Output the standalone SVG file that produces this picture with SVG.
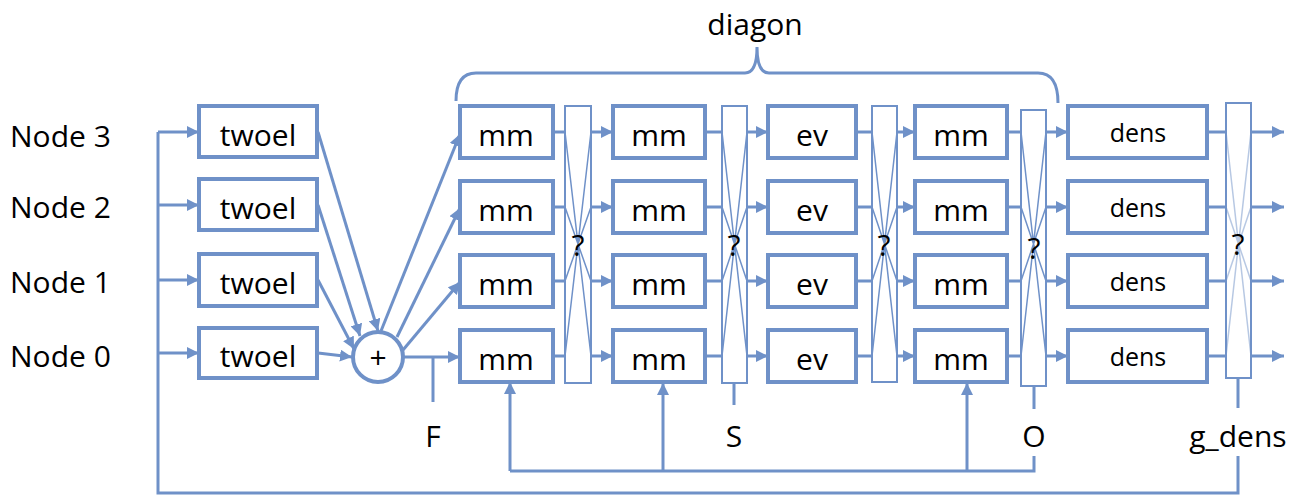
<svg xmlns="http://www.w3.org/2000/svg" width="1299" height="497" viewBox="0 0 1299 497">
<style>
.bx{fill:#fff;stroke:#6F91C8;stroke-width:4}
.qb{fill:#fff;stroke:#6F91C8;stroke-width:2}
.ln{fill:none;stroke:#6F91C8;stroke-width:3}
.th{fill:none;stroke:#6F91C8;stroke-width:1.5}
.tx{font-family:"Open Sans","Liberation Sans",sans-serif;font-size:30px;fill:#000}
.c{text-anchor:middle}
</style>
<defs>
<marker id="ah" markerUnits="userSpaceOnUse" markerWidth="13" markerHeight="12" refX="12" refY="6" orient="auto">
<path d="M0,0 L12,6 L0,12 z" fill="#6F91C8"/>
</marker>
</defs>
<rect width="1299" height="497" fill="#fff"/>

<g id="labels">
<text class="tx" x="10" y="147">Node 3</text>
<text class="tx" x="10" y="218">Node 2</text>
<text class="tx" x="10" y="293">Node 1</text>
<text class="tx" x="10" y="367">Node 0</text>
<text class="tx c" x="755" y="35">diagon</text>
<text class="tx c" x="433" y="447">F</text>
<text class="tx c" x="734" y="447">S</text>
<text class="tx c" x="1034" y="447">O</text>
<text class="tx c" x="1238" y="447">g_dens</text>
</g>

<g id="connectors">
<!-- brace -->
<path class="ln" stroke-width="4" d="M456,101 Q456,73 476,73 L745,73 Q757,73 757,47 Q757,73 769,73 L1038,73 Q1058,73 1058,103"/>
<!-- left bus -->
<path class="ln" d="M158,132 V493 H1238 V456"/>
<path class="ln" marker-end="url(#ah)" d="M158,132 H199"/>
<path class="ln" marker-end="url(#ah)" d="M158,205 H199"/>
<path class="ln" marker-end="url(#ah)" d="M158,280 H199"/>
<path class="ln" marker-end="url(#ah)" d="M158,353 H199"/>
<!-- twoel to plus -->
<path class="ln" marker-end="url(#ah)" d="M318,132 L378,331"/>
<path class="ln" marker-end="url(#ah)" d="M318,205 L360,336"/>
<path class="ln" marker-end="url(#ah)" d="M318,280 L354,349"/>
<path class="ln" marker-end="url(#ah)" d="M318,353 L352,357"/>
<!-- plus to mm -->
<path class="ln" marker-end="url(#ah)" d="M381,331 L460,134"/>
<path class="ln" marker-end="url(#ah)" d="M397,337 L460,208"/>
<path class="ln" marker-end="url(#ah)" d="M403,350 L460,282"/>
<path class="ln" marker-end="url(#ah)" d="M403,357 H460"/>
<path class="ln" d="M433,357 V402"/>
<!-- column links: box -> ? -->
<path class="ln" d="M553,132 H565 M553,207 H565 M553,281 H565 M553,356 H565"/>
<path class="ln" d="M705,132 H722 M705,207 H722 M705,281 H722 M705,356 H722"/>
<path class="ln" d="M856,132 H872 M856,207 H872 M856,281 H872 M856,356 H872"/>
<path class="ln" d="M1007,132 H1021 M1007,207 H1021 M1007,281 H1021 M1007,356 H1021"/>
<path class="ln" d="M1207,132 H1226 M1207,207 H1226 M1207,281 H1226 M1207,356 H1226"/>
<!-- ? -> next box -->
<g marker-end="url(#ah)">
<path class="ln" d="M591,132 H613"/><path class="ln" d="M591,207 H613"/><path class="ln" d="M591,281 H613"/><path class="ln" d="M591,356 H613"/>
<path class="ln" d="M747,132 H768"/><path class="ln" d="M747,207 H768"/><path class="ln" d="M747,281 H768"/><path class="ln" d="M747,356 H768"/>
<path class="ln" d="M897,132 H915"/><path class="ln" d="M897,207 H915"/><path class="ln" d="M897,281 H915"/><path class="ln" d="M897,356 H915"/>
<path class="ln" d="M1046,132 H1068"/><path class="ln" d="M1046,207 H1068"/><path class="ln" d="M1046,281 H1068"/><path class="ln" d="M1046,356 H1068"/>
<path class="ln" d="M1251,132 H1284"/><path class="ln" d="M1251,207 H1284"/><path class="ln" d="M1251,281 H1284"/><path class="ln" d="M1251,356 H1284"/>
</g>
<!-- ticks -->
<path class="ln" d="M734,383 V405 M1034,386 V409 M1238,378 V408"/>
<!-- feedback -->
<path class="ln" d="M1034,456 V471 H510"/>
<path class="ln" marker-end="url(#ah)" d="M510,471 V382"/>
<path class="ln" marker-end="url(#ah)" d="M663,471 V383"/>
<path class="ln" marker-end="url(#ah)" d="M967,471 V383"/>
</g>

<g id="twoel">
<rect class="bx" x="199" y="106" width="118" height="51"/>
<rect class="bx" x="199" y="179" width="118" height="51"/>
<rect class="bx" x="199" y="254" width="118" height="52"/>
<rect class="bx" x="199" y="328" width="118" height="50"/>
<text class="tx c" x="258" y="146">twoel</text>
<text class="tx c" x="258" y="219">twoel</text>
<text class="tx c" x="258" y="294">twoel</text>
<text class="tx c" x="258" y="367">twoel</text>
</g>

<g id="plus">
<circle class="bx" cx="378" cy="357" r="25"/>
<text class="tx c" x="378" y="368">+</text>
</g>

<g id="mm1">
<rect class="bx" x="460" y="106" width="93" height="52"/>
<rect class="bx" x="460" y="181" width="93" height="52"/>
<rect class="bx" x="460" y="255" width="93" height="52"/>
<rect class="bx" x="460" y="330" width="93" height="52"/>
<text class="tx c" x="506" y="146">mm</text><text class="tx c" x="506" y="221">mm</text><text class="tx c" x="506" y="295">mm</text><text class="tx c" x="506" y="370">mm</text>
</g>

<g id="q1">
<rect class="qb" x="565" y="106" width="26" height="277"/>
<path class="th" d="M565,132 L591,356 M591,132 L565,356 M565,207 L591,281 M591,207 L565,281"/>
<text class="tx c" x="578" y="256">?</text>
</g>

<g id="mm2">
<rect class="bx" x="613" y="106" width="92" height="52"/>
<rect class="bx" x="613" y="181" width="92" height="52"/>
<rect class="bx" x="613" y="255" width="92" height="52"/>
<rect class="bx" x="613" y="330" width="92" height="52"/>
<text class="tx c" x="659" y="146">mm</text><text class="tx c" x="659" y="221">mm</text><text class="tx c" x="659" y="295">mm</text><text class="tx c" x="659" y="370">mm</text>
</g>

<g id="q2">
<rect class="qb" x="722" y="106" width="25" height="277"/>
<path class="th" d="M722,132 L747,356 M747,132 L722,356 M722,207 L747,281 M747,207 L722,281"/>
<text class="tx c" x="734" y="256">?</text>
</g>

<g id="ev">
<rect class="bx" x="768" y="106" width="88" height="52"/>
<rect class="bx" x="768" y="181" width="88" height="52"/>
<rect class="bx" x="768" y="255" width="88" height="52"/>
<rect class="bx" x="768" y="330" width="88" height="52"/>
<text class="tx c" x="812" y="146">ev</text><text class="tx c" x="812" y="221">ev</text><text class="tx c" x="812" y="295">ev</text><text class="tx c" x="812" y="370">ev</text>
</g>

<g id="q3">
<rect class="qb" x="872" y="106" width="25" height="276"/>
<path class="th" d="M872,132 L897,356 M897,132 L872,356 M872,207 L897,281 M897,207 L872,281"/>
<text class="tx c" x="884" y="256">?</text>
</g>

<g id="mm4">
<rect class="bx" x="915" y="106" width="92" height="52"/>
<rect class="bx" x="915" y="181" width="92" height="52"/>
<rect class="bx" x="915" y="255" width="92" height="52"/>
<rect class="bx" x="915" y="330" width="92" height="52"/>
<text class="tx c" x="961" y="146">mm</text><text class="tx c" x="961" y="221">mm</text><text class="tx c" x="961" y="295">mm</text><text class="tx c" x="961" y="370">mm</text>
</g>

<g id="q4">
<rect class="qb" x="1021" y="110" width="25" height="276"/>
<path class="th" d="M1021,132 L1046,356 M1046,132 L1021,356 M1021,207 L1046,281 M1046,207 L1021,281"/>
<text class="tx c" x="1034" y="259">?</text>
</g>

<g id="dens">
<rect class="bx" x="1068" y="106" width="139" height="52"/>
<rect class="bx" x="1068" y="181" width="139" height="52"/>
<rect class="bx" x="1068" y="255" width="139" height="52"/>
<rect class="bx" x="1068" y="330" width="139" height="52"/>
<text class="tx c" style="font-size:25px" x="1138" y="142">dens</text><text class="tx c" style="font-size:25px" x="1138" y="217">dens</text><text class="tx c" style="font-size:25px" x="1138" y="291">dens</text><text class="tx c" style="font-size:25px" x="1138" y="366">dens</text>
</g>

<g id="q5">
<rect class="qb" x="1226" y="103" width="25" height="275"/>
<path class="th" stroke-opacity="0.5" stroke-width="1" d="M1226,132 L1251,356 M1251,132 L1226,356 M1226,207 L1251,281 M1251,207 L1226,281"/>
<text class="tx c" x="1238" y="255">?</text>
</g>
</svg>
